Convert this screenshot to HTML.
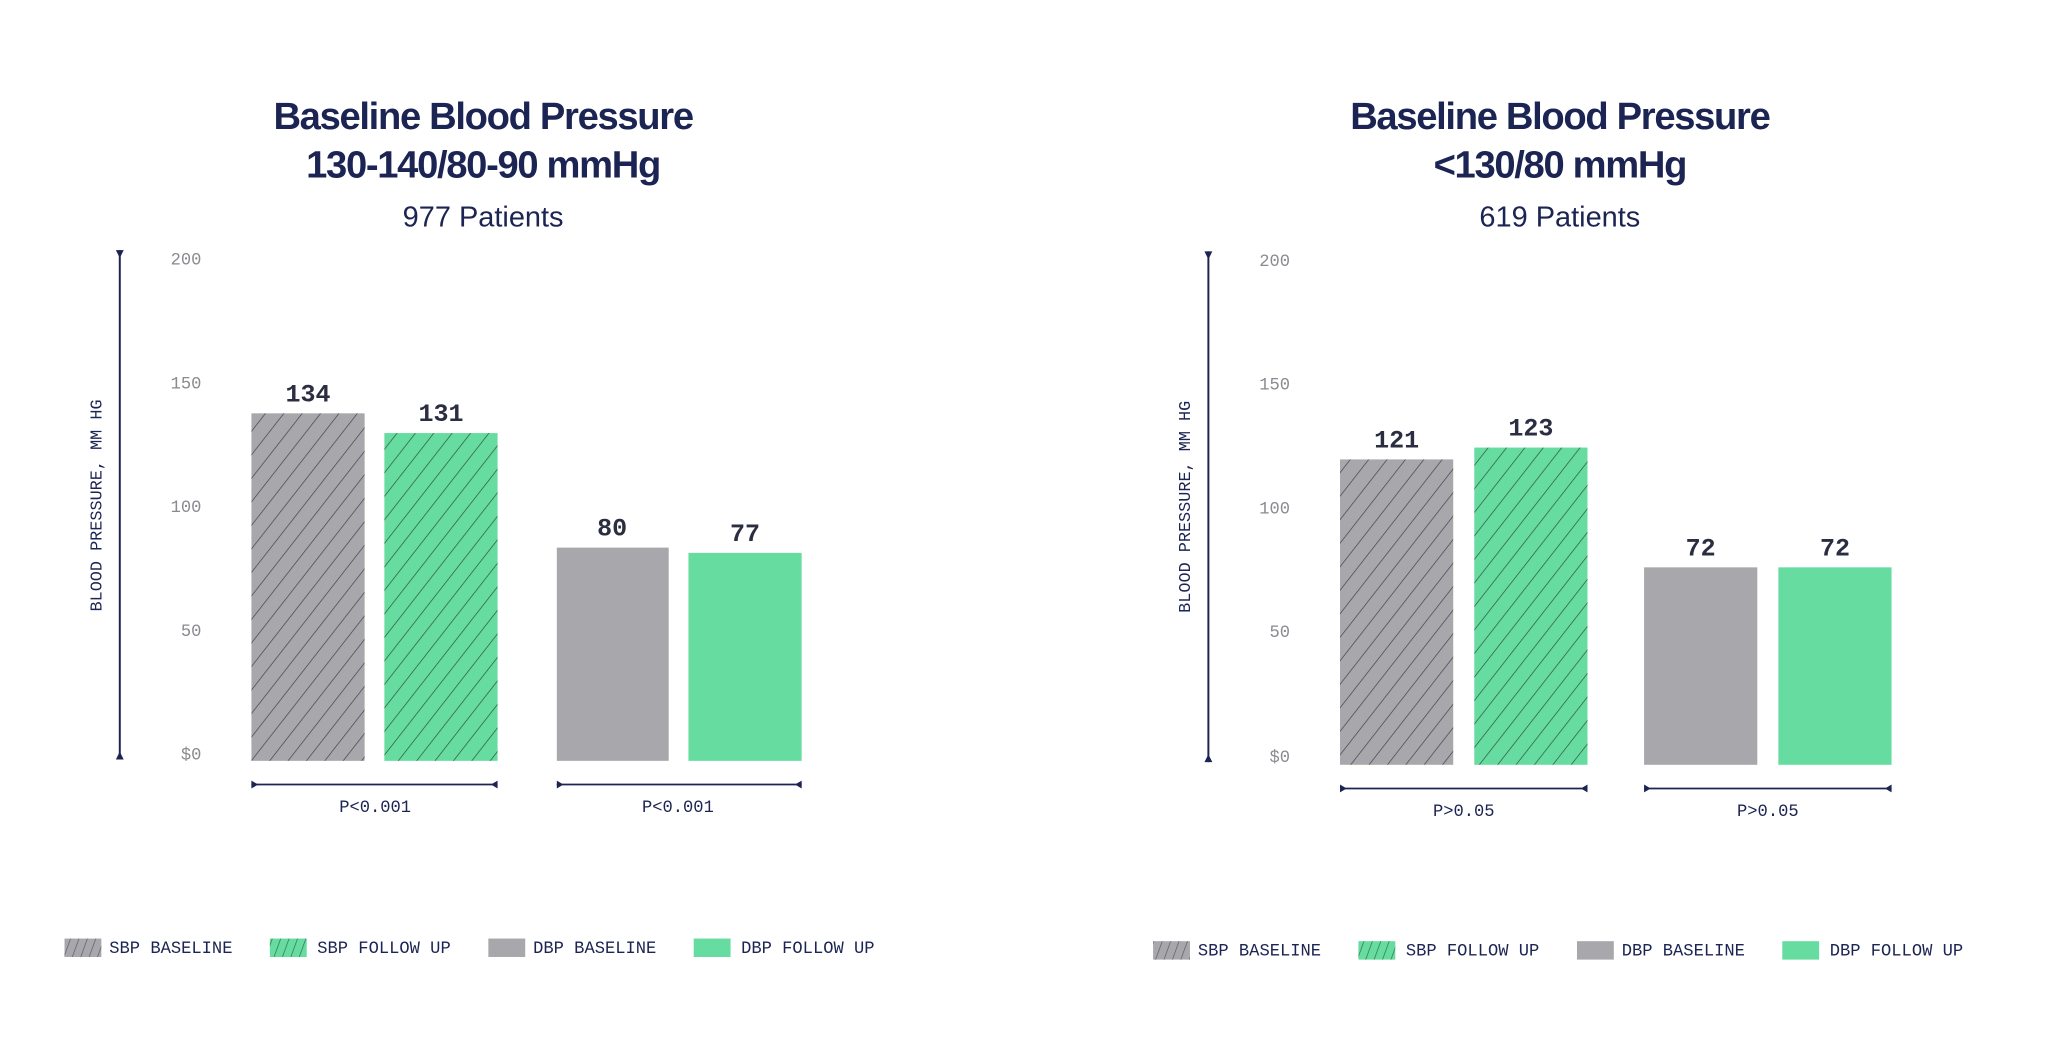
<!DOCTYPE html>
<html><head><meta charset="utf-8"><style>
html,body{margin:0;padding:0;background:#fff;}
svg{display:block}
.t{font-family:"Liberation Sans",sans-serif;font-weight:bold;fill:#1b2452;font-size:29px;text-anchor:middle;letter-spacing:-1px}
.s{font-family:"Liberation Sans",sans-serif;fill:#1b2452;font-size:22px;text-anchor:middle}
.tk{font-family:"Liberation Mono",monospace;fill:#8a8a90;font-size:13px;text-anchor:end}
.v{font-family:"Liberation Mono",monospace;font-weight:bold;fill:#2a2e40;font-size:19px;text-anchor:middle}
.p{font-family:"Liberation Mono",monospace;fill:#1b2452;font-size:13px;text-anchor:middle}
.lg{font-family:"Liberation Mono",monospace;fill:#1b2452;font-size:13px}
.ax{font-family:"Liberation Mono",monospace;fill:#1b2452;font-size:12.8px;text-anchor:middle}
</style></head><body>
<svg width="2064" height="1054" viewBox="0 0 1568 800.7" xmlns="http://www.w3.org/2000/svg">
<defs>
<pattern id="hg" patternUnits="userSpaceOnUse" width="11" height="11" patternTransform="rotate(38)">
<rect width="11" height="11" fill="#a8a7ab"/><line x1="0" y1="0" x2="0" y2="11" stroke="#3a3d4a" stroke-width="1"/></pattern>
<pattern id="hn" patternUnits="userSpaceOnUse" width="11" height="11" patternTransform="rotate(38)">
<rect width="11" height="11" fill="#66dca0"/><line x1="0" y1="0" x2="0" y2="11" stroke="#2a4a3a" stroke-width="1"/></pattern>
<pattern id="lg" patternUnits="userSpaceOnUse" width="6" height="6" patternTransform="rotate(20)">
<rect width="6" height="6" fill="#a8a7ab"/><line x1="0" y1="0" x2="0" y2="6" stroke="#55586a" stroke-width="1"/></pattern>
<pattern id="ln" patternUnits="userSpaceOnUse" width="6" height="6" patternTransform="rotate(20)">
<rect width="6" height="6" fill="#66dca0"/><line x1="0" y1="0" x2="0" y2="6" stroke="#2f6a4a" stroke-width="1"/></pattern>
</defs>

<!-- LEFT -->
<g>
<text class="t" x="367" y="98">Baseline Blood Pressure</text>
<text class="t" x="367" y="135">130-140/80-90 mmHg</text>
<text class="s" x="367" y="172">977 Patients</text>
<line x1="91" y1="190" x2="91" y2="577" stroke="#1b2452" stroke-width="1.5"/>
<polygon points="88,190 94,190 91,196" fill="#1b2452"/>
<polygon points="88,577 94,577 91,571" fill="#1b2452"/>
<text class="ax" transform="translate(77,384) rotate(-90)">BLOOD PRESSURE, MM HG</text>
<text class="tk" x="153" y="201">200</text>
<text class="tk" x="153" y="295">150</text>
<text class="tk" x="153" y="389">100</text>
<text class="tk" x="153" y="483">50</text>
<text class="tk" x="153" y="577">$0</text>
<rect x="191" y="314" width="86" height="264" fill="url(#hg)"/>
<rect x="292" y="329" width="86" height="249" fill="url(#hn)"/>
<rect x="423" y="416" width="85" height="162" fill="#a8a7ab"/>
<rect x="523" y="420" width="86" height="158" fill="#66dca0"/>
<text class="v" x="234" y="305">134</text>
<text class="v" x="335" y="320">131</text>
<text class="v" x="465" y="407">80</text>
<text class="v" x="566" y="411">77</text>
<line x1="191" y1="596" x2="378" y2="596" stroke="#1b2452" stroke-width="1.3"/>
<polygon points="191,593 191,599 196,596" fill="#1b2452"/><polygon points="378,593 378,599 373,596" fill="#1b2452"/>
<line x1="423" y1="596" x2="609" y2="596" stroke="#1b2452" stroke-width="1.3"/>
<polygon points="423,593 423,599 428,596" fill="#1b2452"/><polygon points="609,593 609,599 604,596" fill="#1b2452"/>
<text class="p" x="285" y="617">P&lt;0.001</text>
<text class="p" x="515" y="617">P&lt;0.001</text>
<rect x="49" y="713" width="28" height="14" fill="url(#lg)"/><text class="lg" x="83" y="724">SBP BASELINE</text>
<rect x="205" y="713" width="28" height="14" fill="url(#ln)"/><text class="lg" x="241" y="724">SBP FOLLOW UP</text>
<rect x="371" y="713" width="28" height="14" fill="#a8a7ab"/><text class="lg" x="405" y="724">DBP BASELINE</text>
<rect x="527" y="713" width="28" height="14" fill="#66dca0"/><text class="lg" x="563" y="724">DBP FOLLOW UP</text>
</g>

<!-- RIGHT -->
<g>
<text class="t" x="1185" y="98">Baseline Blood Pressure</text>
<text class="t" x="1185" y="135">&lt;130/80 mmHg</text>
<text class="s" x="1185" y="172">619 Patients</text>
<line x1="918" y1="191" x2="918" y2="579" stroke="#1b2452" stroke-width="1.5"/>
<polygon points="915,191 921,191 918,197" fill="#1b2452"/>
<polygon points="915,579 921,579 918,573" fill="#1b2452"/>
<text class="ax" transform="translate(904,385) rotate(-90)">BLOOD PRESSURE, MM HG</text>
<text class="tk" x="980" y="202">200</text>
<text class="tk" x="980" y="296">150</text>
<text class="tk" x="980" y="390">100</text>
<text class="tk" x="980" y="484">50</text>
<text class="tk" x="980" y="579">$0</text>
<rect x="1018" y="349" width="86" height="232" fill="url(#hg)"/>
<rect x="1120" y="340" width="86" height="241" fill="url(#hn)"/>
<rect x="1249" y="431" width="86" height="150" fill="#a8a7ab"/>
<rect x="1351" y="431" width="86" height="150" fill="#66dca0"/>
<text class="v" x="1061" y="340">121</text>
<text class="v" x="1163" y="331">123</text>
<text class="v" x="1292" y="422">72</text>
<text class="v" x="1394" y="422">72</text>
<line x1="1018" y1="599" x2="1206" y2="599" stroke="#1b2452" stroke-width="1.3"/>
<polygon points="1018,596 1018,602 1023,599" fill="#1b2452"/><polygon points="1206,596 1206,602 1201,599" fill="#1b2452"/>
<line x1="1249" y1="599" x2="1437" y2="599" stroke="#1b2452" stroke-width="1.3"/>
<polygon points="1249,596 1249,602 1254,599" fill="#1b2452"/><polygon points="1437,596 1437,602 1432,599" fill="#1b2452"/>
<text class="p" x="1112" y="620">P&gt;0.05</text>
<text class="p" x="1343" y="620">P&gt;0.05</text>
<rect x="876" y="715" width="28" height="14" fill="url(#lg)"/><text class="lg" x="910" y="726">SBP BASELINE</text>
<rect x="1032" y="715" width="28" height="14" fill="url(#ln)"/><text class="lg" x="1068" y="726">SBP FOLLOW UP</text>
<rect x="1198" y="715" width="28" height="14" fill="#a8a7ab"/><text class="lg" x="1232" y="726">DBP BASELINE</text>
<rect x="1354" y="715" width="28" height="14" fill="#66dca0"/><text class="lg" x="1390" y="726">DBP FOLLOW UP</text>
</g>
</svg>
</body></html>
